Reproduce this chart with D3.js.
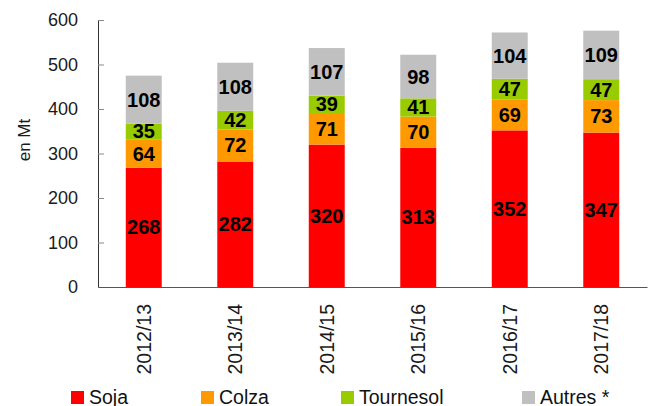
<!DOCTYPE html>
<html>
<head>
<meta charset="utf-8">
<script src="https://cdn.jsdelivr.net/npm/d3@7"></script>
<style>
  body { margin: 0; background: #fff; }
  svg { display: block; font-family: "Liberation Sans", Arial, sans-serif; }
  .tick text { fill: #1a1a1a; }
  .value { font-weight: bold; font-size: 20px; fill: #000; }
</style>
</head>
<body>
<script>
// campagnes
var years = ["2012/13", "2013/14", "2014/15", "2015/16", "2016/17", "2017/18"];
// production par graine (Mt)
var soja = [268, 282, 320, 313, 352, 347];
var colza = [64, 72, 71, 70, 69, 73];
var tournesol = [35, 42, 39, 41, 47, 47];
var autres = [108, 108, 107, 98, 104, 109];
var seriesNames = ["Soja", "Colza", "Tournesol", "Autres *"];
var colors = ["#FF0000", "#FF9900", "#99CC00", "#C0C0C0"];
var yTicks = [0, 100, 200, 300, 400, 500, 600];

var width = 653, height = 406;

var svg = d3.select("body").append("svg")
  .attr("width", width)
  .attr("height", height);

var xScale = d3.scaleBand()
  .domain(years)
  .range([98, 647])
  .paddingInner(0.607)
  .paddingOuter(0.3035);

var yScale = d3.scaleLinear()
  .domain([0, 600])
  .range([287, 20]);

// table pour d3.stack
var table = years.map(function(y, i) {
  return { year: y, Soja: soja[i], Colza: colza[i], "Tournesol": tournesol[i], "Autres *": autres[i] };
});
var stacked = d3.stack().keys(seriesNames)(table);

var layers = svg.selectAll(".layer")
  .data(stacked)
  .enter()
  .append("g")
  .attr("class", "layer")
  .attr("fill", function(d, i) { return colors[i]; });

layers.selectAll("rect")
  .data(function(d) { return d; })
  .enter()
  .append("rect")
  .attr("x", function(d) { return xScale(d.data.year); })
  .attr("width", xScale.bandwidth())
  .attr("y", function(d) { return yScale(d[1]); })
  .attr("height", function(d) { return yScale(d[0]) - yScale(d[1]); });

layers.selectAll("text")
  .data(function(d) { return d; })
  .enter()
  .append("text")
  .attr("class", "value")
  .attr("text-anchor", "middle")
  .attr("dominant-baseline", "central")
  .attr("x", function(d) { return xScale(d.data.year) + xScale.bandwidth() / 2; })
  .attr("y", function(d) { return (yScale(d[0]) + yScale(d[1])) / 2; })
  .text(function(d) { return d[1] - d[0]; });

// axe Y
var yAxis = d3.axisLeft(yScale)
  .tickValues(yTicks)
  .tickSizeInner(-6)
  .tickSizeOuter(0)
  .tickPadding(20);

var gy = svg.append("g")
  .attr("transform", "translate(98,0)")
  .call(yAxis);
gy.select(".domain").attr("stroke", "#333");
gy.selectAll(".tick line").attr("stroke", "#888");
gy.selectAll(".tick text").style("font-size", "18px");

// axe X
var xAxis = d3.axisBottom(xScale).tickSize(0).tickSizeOuter(0);
var gx = svg.append("g")
  .attr("transform", "translate(0,287)")
  .call(xAxis);
gx.select(".domain").attr("stroke", "#555");
gx.selectAll(".tick text")
  .style("font-size", "19.5px")
  .attr("text-anchor", "end")
  .attr("transform", "rotate(-90)")
  .attr("x", -17)
  .attr("y", 0)
  .attr("dy", "0.35em");

// titre axe
svg.append("text")
  .attr("transform", "translate(30,140) rotate(-90)")
  .attr("text-anchor", "middle")
  .style("font-size", "17px")
  .attr("fill", "#1a1a1a")
  .text("en Mt");

// légende
var legendX = [71, 201, 341, 522];
var legend = svg.selectAll(".legend")
  .data(seriesNames)
  .enter()
  .append("g")
  .attr("class", "legend")
  .attr("transform", function(d, i) { return "translate(" + legendX[i] + ",391)"; });

legend.append("rect")
  .attr("width", 13)
  .attr("height", 13)
  .attr("fill", function(d, i) { return colors[i]; });

legend.append("text")
  .attr("x", 18)
  .attr("y", 12.5)
  .style("font-size", "19.5px")
  .attr("fill", "#111")
  .text(function(d) { return d; });
</script>
</body>
</html>
